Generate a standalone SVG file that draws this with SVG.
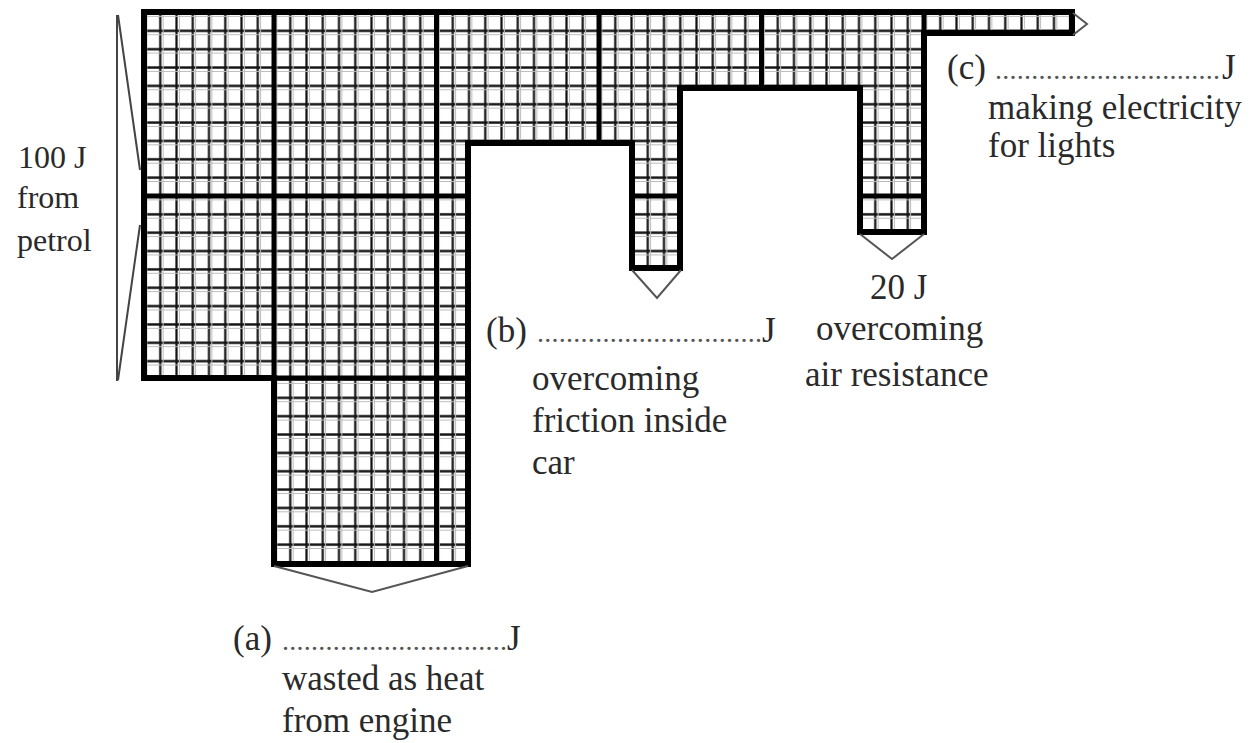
<svg xmlns="http://www.w3.org/2000/svg" width="1250" height="743" viewBox="0 0 1250 743">
  <style>
    .t { font-family: "Liberation Serif", "Times New Roman", serif; font-size: 35px; fill: #2a2a2a; }
    .ts { font-family: "Liberation Serif", "Times New Roman", serif; font-size: 32px; fill: #2a2a2a; }
    .dots { font-family: "Liberation Serif", "Times New Roman", serif; font-size: 28px; fill: #555; }
    .thick { stroke: #000; stroke-width: 5; fill: none; }
    .outline { stroke: #000; stroke-width: 6; fill: none; stroke-linejoin: miter; }
    .head { stroke: #555; stroke-width: 2; fill: none; stroke-linejoin: miter; }
  </style>
  <defs>
    <pattern id="grid" patternUnits="userSpaceOnUse" x="135.875" y="3.325" width="16.25" height="18.35">
      <rect width="16.25" height="18.35" fill="#fff"/>
      <path d="M8.125,0 V18.35 M0,9.175 H16.25" stroke="#111" stroke-width="2.2" fill="none"/>
      <path d="M11,0 V18.35 M0,13 H16.25" stroke="#bbb" stroke-width="1" fill="none"/>
    </pattern>
    <clipPath id="bodyClip">
      <path d="M144,12 H1072 V33 H924 V232 H860 V88 H680 V268 H632 V143 H468 V564 H274 V378 H144 Z"/>
    </clipPath>
  </defs>
  <rect width="1250" height="743" fill="#fff"/>

  <g id="flow-body">
    <path d="M144,12 H1072 V33 H924 V232 H860 V88 H680 V268 H632 V143 H468 V564 H274 V378 H144 Z" fill="url(#grid)"/>
    <g clip-path="url(#bodyClip)">
      <path class="thick" d="M274,0 V600 M436.5,0 V600 M599,0 V600 M761.5,0 V600 M924,0 V600 M100,196 H1100 M100,378 H1100"/>
    </g>
    <path class="outline" d="M144,12 H1072 V33 H924 V232 H860 V88 H680 V268 H632 V143 H468 V564 H274 V378 H144 Z"/>
  </g>

  <g id="connectors">
    <path id="input-brace" d="M117,15 V381 M118,15 L140,170 M140,225 L118,380" stroke="#444" stroke-width="2" fill="none"/>
    <path id="head-a" class="head" d="M274,566 L372,592 L468,566"/>
    <path id="head-b" class="head" d="M632,270 L657,298 L681,270"/>
    <path id="head-air" class="head" d="M860,234 L892,259 L924,234"/>
    <path id="head-c" class="head" d="M1073,13 L1087,24 L1073,35"/>
  </g>

  <g id="label-input">
    <text class="ts" x="18" y="168">100 J</text>
    <text class="ts" x="17" y="208">from</text>
    <text class="ts" x="17" y="251">petrol</text>
  </g>

  <g id="label-c">
    <text class="t" x="947" y="79">(c)</text>
    <text class="dots" x="995" y="79" textLength="225" lengthAdjust="spacing">...............................</text>
    <text class="t" x="1222" y="79">J</text>
    <text class="t" x="988" y="119">making electricity</text>
    <text class="t" x="988" y="157">for lights</text>
  </g>

  <g id="label-air">
    <text class="t" x="870" y="299">20 J</text>
    <text class="t" x="816" y="340">overcoming</text>
    <text class="t" x="805" y="386">air resistance</text>
  </g>

  <g id="label-b">
    <text class="t" x="486" y="342">(b)</text>
    <text class="dots" x="537" y="342" textLength="225" lengthAdjust="spacing">...............................</text>
    <text class="t" x="762" y="342">J</text>
    <text class="t" x="532" y="390">overcoming</text>
    <text class="t" x="532" y="432">friction inside</text>
    <text class="t" x="532" y="474">car</text>
  </g>

  <g id="label-a">
    <text class="t" x="233" y="650">(a)</text>
    <text class="dots" x="282" y="650" textLength="225" lengthAdjust="spacing">...............................</text>
    <text class="t" x="507" y="650">J</text>
    <text class="t" x="282" y="690">wasted as heat</text>
    <text class="t" x="282" y="732">from engine</text>
  </g>
</svg>
